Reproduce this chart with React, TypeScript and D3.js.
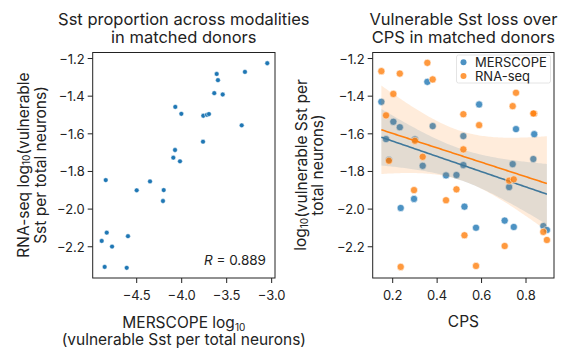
import React from "react";
import * as d3 from "d3";

// Left panel: MERSCOPE vs RNA-seq (log10 vulnerable Sst per total neurons)
const merscopeLog = [
  -3.049, -3.297, -3.611, -3.597, -3.638, -3.544, -4.071, -4.004, -3.76, -3.719, -3.697, -3.333, -3.763, -4.074,
  -4.093, -4.019, -4.844, -4.352, -4.5, -4.2, -4.208, -4.833, -4.889, -4.597, -4.774, -4.856, -4.611,
];
const rnaseqLog = [
  -1.225, -1.271, -1.282, -1.315, -1.384, -1.391, -1.457, -1.494, -1.504, -1.499, -1.495, -1.555, -1.642, -1.686,
  -1.727, -1.746, -1.846, -1.853, -1.9, -1.899, -1.957, -2.125, -2.169, -2.144, -2.199, -2.307, -2.312,
];
const corrLabel = "0.889";

// Right panel: loss over CPS
const cps = [
  0.149, 0.17, 0.183, 0.203, 0.232, 0.236, 0.296, 0.3, 0.335, 0.356, 0.38, 0.44, 0.487, 0.518, 0.518, 0.523, 0.575,
  0.589, 0.704, 0.724, 0.74, 0.745, 0.755, 0.837, 0.833, 0.878, 0.894,
];
const merscopeLoss = [
  -1.43, -1.628, -1.738, -1.536, -1.565, -1.994, -1.946, -1.63, -1.77, -1.324, -1.559, -1.821, -1.819, -1.612, -1.766,
  -1.987, -2.099, -1.444, -2.061, -1.883, -1.761, -2.095, -1.575, -1.602, -1.734, -2.09, -2.111,
];
const rnaseqLoss = [
  -1.267, -1.502, -1.743, -1.388, -1.28, -2.307, -1.899, -1.637, -1.722, -1.223, -1.311, -1.953, -1.895, -1.496, -1.683,
  -2.139, -2.302, -1.554, -2.196, -1.849, -1.453, -1.842, -1.382, -1.492, -1.492, -2.121, -2.164,
];

const seriesNames = ["MERSCOPE", "RNA-seq"];
const yTicks = [-1.2, -1.4, -1.6, -1.8, -2.0, -2.2];
const leftXTicks = [-4.5, -4.0, -3.5, -3.0];
const rightXTicks = [0.2, 0.4, 0.6, 0.8];

const BLUE = "#1f77b4";
const ORANGE = "#ff7f0e";
const FONT = "Inter, 'Liberation Sans', sans-serif";
const TITLE_FS = 16.5;
const LABEL_FS = 15.5;

function fitBand(xs: number[], ys: number[]) {
  const n = xs.length;
  const xbar = d3.mean(xs)!;
  const ybar = d3.mean(ys)!;
  let sxx = 0, sxy = 0;
  for (let i = 0; i < n; i++) {
    sxx += (xs[i] - xbar) ** 2;
    sxy += (xs[i] - xbar) * (ys[i] - ybar);
  }
  const b = sxy / sxx;
  const a = ybar - b * xbar;
  let sse = 0;
  for (let i = 0; i < n; i++) sse += (ys[i] - (a + b * xs[i])) ** 2;
  const s2 = sse / (n - 2);
  const t = 2.06;
  const [lo, hi] = d3.extent(xs) as [number, number];
  const grid = d3.range(0, 101).map((i) => lo + ((hi - lo) * i) / 100);
  return grid.map((x) => {
    const yh = a + b * x;
    const se = Math.sqrt(s2 * (1 / n + (x - xbar) ** 2 / sxx));
    return { x, y: yh, y0: yh - t * se, y1: yh + t * se };
  });
}

export default function App() {
  const W = 578, H = 349;
  const top = 52.5, bottom = 278;
  const y = d3.scaleLinear().domain([-1.168, -2.366]).range([top, bottom]);
  const xL = d3.scaleLinear().domain([-4.989, -2.963]).range([92.7, 275]);
  const xR = d3.scaleLinear().domain([0.11, 0.926]).range([372.7, 554]);
  const fmt = d3.format(".1f");

  const bandBlue = fitBand(cps, merscopeLoss);
  const bandOrange = fitBand(cps, rnaseqLoss);
  const area = d3.area<any>().x((d) => xR(d.x)).y0((d) => y(d.y0)).y1((d) => y(d.y1));
  const line = d3.line<any>().x((d) => xR(d.x)).y((d) => y(d.y));

  const yAxis = (x0: number) =>
    yTicks.map((t) => (
      <g key={t}>
        <line x1={x0 - 5} x2={x0} y1={y(t)} y2={y(t)} stroke="#222" strokeWidth={1} />
        <text x={x0 - 8} y={y(t)} textAnchor="end" dominantBaseline="central" fontSize={13} fill="#222">
          {fmt(t)}
        </text>
      </g>
    ));
  const xAxis = (sc: d3.ScaleLinear<number, number>, ticks: number[]) =>
    ticks.map((t) => (
      <g key={t}>
        <line x1={sc(t)} x2={sc(t)} y1={bottom} y2={bottom + 5} stroke="#222" strokeWidth={1} />
        <text x={sc(t)} y={bottom + 22} textAnchor="middle" fontSize={13} fill="#222">
          {fmt(t)}
        </text>
      </g>
    ));

  const sub = (s: string) => (
    <tspan fontSize={10} dy={3}>
      {s}
    </tspan>
  );

  return (
    <svg
      width={W}
      height={H}
      style={{ position: "absolute", left: 0, top: 0, fontFamily: FONT, background: "#fff" }}
    >
      <rect width={W} height={H} fill="#fff" />
      {/* Left panel */}
      <text x={183.8} y={25} textAnchor="middle" fontSize={TITLE_FS} fill="#222">
        Sst proportion across modalities
      </text>
      <text x={183.8} y={43} textAnchor="middle" fontSize={TITLE_FS} fill="#222">
        in matched donors
      </text>
      {merscopeLog.map((v, i) => (
        <circle key={i} cx={xL(v)} cy={y(rnaseqLog[i])} r={2.4} fill={BLUE} stroke="#fff" strokeWidth={0.5} />
      ))}
      <text x={266} y={265} textAnchor="end" fontSize={13.5} fill="#222">
        <tspan fontStyle="italic">R</tspan> = {corrLabel}
      </text>
      <rect x={92.7} y={top} width={275 - 92.7} height={bottom - top} fill="none" stroke="#222" strokeWidth={1} />
      {yAxis(92.7)}
      {xAxis(xL, leftXTicks)}
      <g transform="translate(23,165) rotate(-90)">
        <text x={0} y={0} textAnchor="middle" dominantBaseline="central" fontSize={LABEL_FS} fill="#222">
          RNA-seq log{sub("10")}
          <tspan dy={-3}>(vulnerable</tspan>
        </text>
      </g>
      <g transform="translate(40.5,165) rotate(-90)">
        <text x={0} y={0} textAnchor="middle" dominantBaseline="central" fontSize={LABEL_FS} fill="#222">
          Sst per total neurons)
        </text>
      </g>
      <text x={183.8} y={327.5} textAnchor="middle" fontSize={LABEL_FS} fill="#222">
        MERSCOPE log{sub("10")}
      </text>
      <text x={183.8} y={345} textAnchor="middle" fontSize={LABEL_FS} fill="#222">
        (vulnerable Sst per total neurons)
      </text>

      {/* Right panel */}
      <text x={463.4} y={25} textAnchor="middle" fontSize={TITLE_FS} fill="#222">
        Vulnerable Sst loss over
      </text>
      <text x={463.4} y={43} textAnchor="middle" fontSize={TITLE_FS} fill="#222">
        CPS in matched donors
      </text>
      {cps.map((c, i) => (
        <circle key={"b" + i} cx={xR(c)} cy={y(merscopeLoss[i])} r={3.6} fill={BLUE} fillOpacity={0.8} stroke="#fff" strokeWidth={0.6} />
      ))}
      <path d={area(bandBlue)!} fill={BLUE} fillOpacity={0.15} />
      <path d={line(bandBlue)!} fill="none" stroke={BLUE} strokeWidth={1.6} />
      {cps.map((c, i) => (
        <circle key={"o" + i} cx={xR(c)} cy={y(rnaseqLoss[i])} r={3.6} fill={ORANGE} fillOpacity={0.8} stroke="#fff" strokeWidth={0.6} />
      ))}
      <path d={area(bandOrange)!} fill={ORANGE} fillOpacity={0.15} />
      <path d={line(bandOrange)!} fill="none" stroke={ORANGE} strokeWidth={1.6} />
      {/* legend */}
      <rect x={456.5} y={55} width={94} height={28} rx={2} fill="#fff" fillOpacity={0.8} stroke="#ddd" strokeWidth={0.8} />
      {seriesNames.map((s, i) => (
        <g key={s}>
          <circle cx={463.5} cy={62.3 + i * 13.6} r={3} fill={i === 0 ? BLUE : ORANGE} fillOpacity={0.8} />
          <text x={475} y={62.3 + i * 13.6} dominantBaseline="central" fontSize={13} fill="#222">
            {s}
          </text>
        </g>
      ))}
      <rect x={372.7} y={top} width={554 - 372.7} height={bottom - top} fill="none" stroke="#222" strokeWidth={1} />
      {yAxis(372.7)}
      {xAxis(xR, rightXTicks)}
      <g transform="translate(300.5,165) rotate(-90)">
        <text x={0} y={0} textAnchor="middle" dominantBaseline="central" fontSize={LABEL_FS} fill="#222">
          log{sub("10")}
          <tspan dy={-3}>(vulnerable Sst per</tspan>
        </text>
      </g>
      <g transform="translate(317.5,165) rotate(-90)">
        <text x={0} y={0} textAnchor="middle" dominantBaseline="central" fontSize={LABEL_FS} fill="#222">
          total neurons)
        </text>
      </g>
      <text x={463.4} y={327} textAnchor="middle" fontSize={LABEL_FS} fill="#222">
        CPS
      </text>
    </svg>
  );
}
